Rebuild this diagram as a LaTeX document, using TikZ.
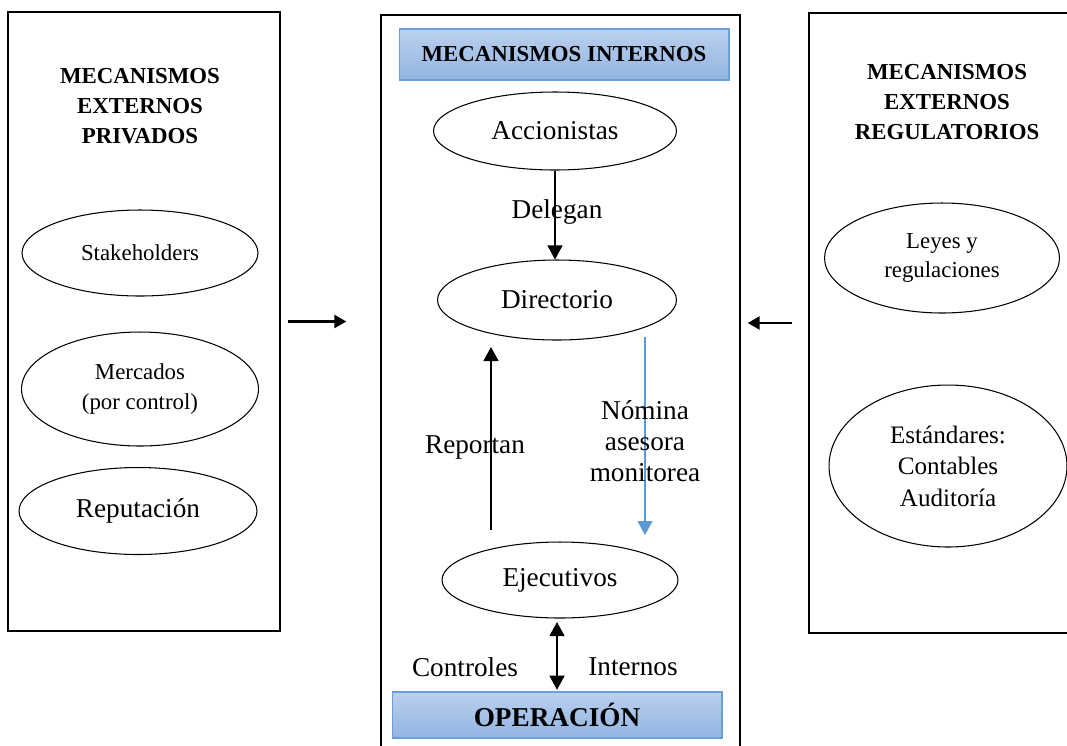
\documentclass[tikz,border=0pt]{standalone}
\usepackage{fontspec}
\setmainfont{Liberation Serif}
\usetikzlibrary{shapes.geometric,arrows.meta}
\definecolor{azulborde}{HTML}{6A9FD9}
\definecolor{azulclaro}{HTML}{BAD0EE}
\definecolor{azulmedio}{HTML}{93B4E1}
\definecolor{azulflecha}{HTML}{5B9BD5}

\begin{document}
\begin{tikzpicture}[x=0.02cm,y=-0.02cm,
    caja/.style={draw,line width=0.8pt,inner sep=0},
    elipse/.style={ellipse,draw,line width=0.6pt,inner sep=0,align=center},
    titulo/.style={align=center,font=\fontsize{13}{17}\selectfont\bfseries},
    banda/.style={draw=azulborde,line width=0.6pt,top color=azulclaro,bottom color=azulmedio,inner sep=0},
    chico/.style={font=\fontsize{13}{17}\selectfont},
    medio/.style={font=\fontsize{14.3}{18}\selectfont},
    grande/.style={font=\fontsize{15.5}{17.6}\selectfont,align=center},
    flecha/.style={-{Triangle[width=0.3cm,length=0.28cm]},line width=0.7pt},
    dflecha/.style={{Triangle[width=0.3cm,length=0.28cm]}-{Triangle[width=0.3cm,length=0.28cm]},line width=0.7pt},
    gruesa/.style={-{Triangle[width=0.26cm,length=0.24cm]},line width=1.3pt}]
            \useasboundingbox (0,0) rectangle (1067,745);

            \node[caja,minimum width=5.44cm,minimum height=12.38cm] (priv) at (144,321.5) {};
            \node[caja,minimum width=7.18cm,minimum height=15.2cm] (inter) at (560.5,395) {};
            \node[caja,minimum width=5.62cm,minimum height=12.4cm] (regu) at (949.5,323) {};

            \node[titulo] (tpriv) at (140,106) {MECANISMOS\\EXTERNOS\\PRIVADOS};
            \node[elipse,chico,minimum width=4.72cm,minimum height=1.72cm] (stake) at (140,253) {Stakeholders};
            \node[elipse,chico,minimum width=4.74cm,minimum height=2.28cm] (merc) at (140,389) {Mercados\\(por control)};
            \node[elipse,grande,minimum width=4.76cm,minimum height=1.74cm] (repu) at (138,511) {Reputación};

            \node[banda,titulo,minimum width=6.6cm,minimum height=1.02cm] (tinter) at (564,54.5) {MECANISMOS INTERNOS};
            \node[elipse,grande,minimum width=4.86cm,minimum height=1.56cm] (acc) at (555,131) {Accionistas};
            \node[elipse,grande,minimum width=4.78cm,minimum height=1.6cm] (dir) at (557,300) {Directorio};
            \node[elipse,grande,minimum width=4.72cm,minimum height=1.52cm] (ejec) at (560,580) {Ejecutivos};
            \node[banda,minimum width=6.6cm,minimum height=0.92cm,font=\fontsize{15.5}{18}\selectfont\bfseries] (oper) at (557,715) {OPERACIÓN};

            \node[titulo] (tregu) at (947,102) {MECANISMOS\\EXTERNOS\\REGULATORIOS};
            \node[elipse,chico,align=center,minimum width=4.7cm,minimum height=2.2cm] (leyes) at (942,258) {Leyes y\\regulaciones};
            \node[elipse,medio,align=center,minimum width=4.76cm,minimum height=3.24cm] (estan) at (948,466) {Estándares:\\Contables\\Auditoría};

            \coordinate (r1) at (491,530);
            \coordinate (r2) at (491,347);
            \coordinate (n1) at (645,337);
            \coordinate (n2) at (645,535);

            \draw[flecha] (acc.south) -- (acc.south |- dir.north);
            \draw[flecha] (r1) -- (r2);
            \draw[flecha,draw=azulflecha,fill=azulflecha,line width=0.6pt] (n1) -- (n2);
            \draw[dflecha,shorten <=2pt,shorten >=1pt] (oper.north |- ejec.south) -- (oper.north);
            \draw[gruesa,shorten <=0.14cm,shorten >=0.68cm] (priv.east) -- (priv.east -| inter.west);
            \draw[gruesa,shorten <=0.32cm,shorten >=0.14cm] (regu.west) -- (regu.west -| inter.east);

            \node[grande] (deleg) at (557,212) {Delegan};
            \node[grande] (repo) at (475,447) {Reportan};
            \node[grande] (nomi) at (645,441) {Nómina\\asesora\\monitorea};
            \node[grande] (contr) at (465,667) {Controles};
            \node[grande] (inte) at (633,667) {Internos};
        \end{tikzpicture}
\end{document}
